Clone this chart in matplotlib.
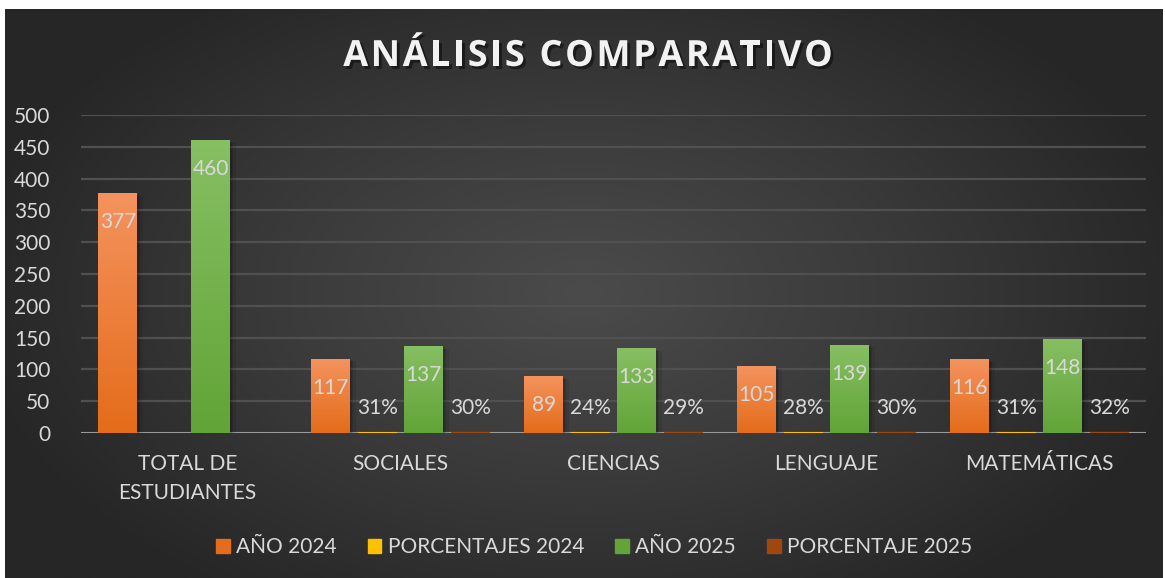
import numpy as np
import matplotlib
matplotlib.use("Agg")
import matplotlib.pyplot as plt
from matplotlib.colors import LinearSegmentedColormap
from matplotlib.patches import Patch
import matplotlib.patheffects as pe

# data
categorias = ["TOTAL DE\nESTUDIANTES", "SOCIALES", "CIENCIAS", "LENGUAJE", "MATEMÁTICAS"]
anio_2024 = [377, 117, 89, 105, 116]
porc_2024 = [np.nan, 0.31, 0.24, 0.28, 0.31]
anio_2025 = [460, 137, 133, 139, 148]
porc_2025 = [np.nan, 0.30, 0.29, 0.30, 0.32]
series_labels = ["AÑO 2024", "PORCENTAJES 2024", "AÑO 2025", "PORCENTAJE 2025"]
yticks = [0, 50, 100, 150, 200, 250, 300, 350, 400, 450, 500]
titulo = "ANÁLISIS COMPARATIVO"

c_orange = ("#F4935E", "#E46C1A")
c_yellow = "#FFC000"
c_green = ("#87BF63", "#62A437")
c_brown = "#9E480E"
c_text = "#D9D9D9"

plt.rcParams['font.family'] = ['Lato', 'DejaVu Sans']

W, H = 1165, 578
fig = plt.figure(figsize=(W / 100, H / 100), dpi=100, facecolor='white')

# background panel with radial gradient
bg = fig.add_axes([5 / W, 0, (1163 - 5) / W, (H - 9) / H])
bg.set_axis_off()
yy, xx = np.mgrid[0:1:300j, 0:1:600j]
r = np.sqrt(((xx - 0.5) / 0.75) ** 2 + ((yy - 0.5) / 0.9) ** 2)
r = np.clip(r / 0.72, 0, 1)
bg_cmap = LinearSegmentedColormap.from_list("bg", ["#4B4B4B", "#3A3A3A", "#262626"])
bg.imshow(r, cmap=bg_cmap, aspect='auto', extent=[0, 1, 0, 1], interpolation='bilinear')
bg.set_xlim(0, 1)
bg.set_ylim(0, 1)

ax = fig.add_axes([81 / W, (H - 433) / H, 1065 / W, 318 / H])
ax.patch.set_alpha(0)

x = np.arange(len(categorias))
step = 0.218
width = 0.183
offsets = [-1.5 * step, -0.5 * step, 0.5 * step, 1.5 * step]

shadow = [pe.SimplePatchShadow(offset=(1, -1), shadow_rgbFace='black', alpha=0.12),
          pe.SimplePatchShadow(offset=(2, -2), shadow_rgbFace='black', alpha=0.10),
          pe.SimplePatchShadow(offset=(4, -2), shadow_rgbFace='black', alpha=0.08),
          pe.Normal()]


def gradient_bars(vals, off, cols):
    cmap = LinearSegmentedColormap.from_list("g", [cols[1], cols[0]])
    bars = ax.bar(x + off, vals, width, color=cols[1], zorder=3, path_effects=shadow)
    grad = np.linspace(0, 1, 128).reshape(-1, 1)
    for b in bars:
        x0, w, h = b.get_x(), b.get_width(), b.get_height()
        im = ax.imshow(grad, extent=[x0, x0 + w, 0, h], origin='lower', aspect='auto',
                       cmap=cmap, zorder=3.5, interpolation='bilinear')
        im.set_clip_path(b)
    for xi, v in zip(x + off, vals):
        ax.annotate(str(v), (xi, v), xytext=(0, -29), textcoords='offset pixels',
                    ha='center', va='center', color=c_text, fontsize=15, zorder=5)
    return bars


def small_bars(vals, off, col):
    ax.bar(x + off, vals, width, color=col, edgecolor=col, linewidth=1.5, zorder=3)
    for xi, v in zip(x + off, vals):
        if np.isnan(v):
            continue
        ax.annotate(f"{v:.0%}", (xi, v), xytext=(0, 25), textcoords='offset pixels',
                    ha='center', va='center', color=c_text, fontsize=15, zorder=5)


ax.axhline(0, color='#9A9A9A', linewidth=2.2, zorder=2.5)
gradient_bars(anio_2024, offsets[0], c_orange)
small_bars(porc_2024, offsets[1], c_yellow)
gradient_bars(anio_2025, offsets[2], c_green)
small_bars(porc_2025, offsets[3], c_brown)

ax.set_xlim(-0.5, len(categorias) - 0.5)
ax.set_ylim(0, 500)
ax.set_yticks(yticks)
ax.set_xticks(x)
ax.set_xticklabels(categorias, linespacing=1.55)
ax.tick_params(axis='y', length=0, pad=22, labelsize=15, labelcolor=c_text)
ax.tick_params(axis='x', length=0, pad=15, labelsize=15, labelcolor=c_text)
ax.grid(axis='y', color='#505050', linewidth=1.6, zorder=0)
ax.set_axisbelow(True)
for s in ax.spines.values():
    s.set_visible(False)

# title with letter spacing, placed character by character
renderer = fig.canvas.get_renderer()
tfont = dict(fontsize=26, fontweight='bold', color='#F2F2F2', family=['Open Sans', 'DejaVu Sans'],
             path_effects=[pe.withSimplePatchShadow(offset=(2, -2), shadow_rgbFace='black', alpha=0.45)])
tracking = 2.6
widths = []
for ch in titulo:
    t = fig.text(0, 0, ch if ch != " " else "I", **tfont)
    widths.append(t.get_window_extent(renderer).width * (0.8 if ch == " " else 1.0))
    t.remove()
total = sum(widths) + tracking * (len(titulo) - 1)
xpos = 588 - total / 2
for ch, w in zip(titulo, widths):
    if ch != " ":
        fig.text(xpos / W, 1 - 57 / H, ch, ha='left', va='center', **tfont)
    xpos += w + tracking

handles = [Patch(color=c_orange[1]), Patch(color=c_yellow), Patch(color=c_green[1]), Patch(color=c_brown)]
fig.legend(handles, series_labels, loc='center', bbox_to_anchor=(594 / W, 1 - 547 / H), ncol=4,
           frameon=False, fontsize=15, labelcolor=c_text, handlelength=0.65, handleheight=0.65,
           handletextpad=0.3, columnspacing=1.5)

fig.savefig("out.png", dpi=100, facecolor='white')
